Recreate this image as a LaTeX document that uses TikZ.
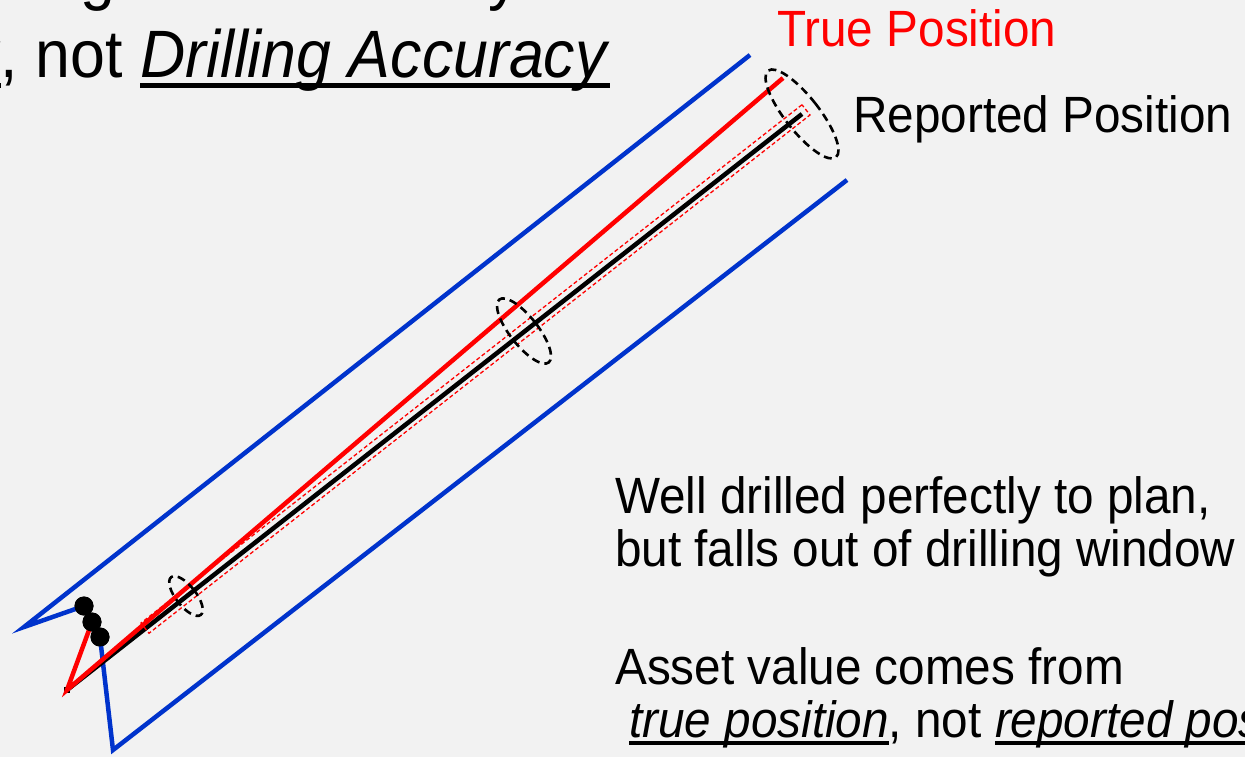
\documentclass[tikz,border=0pt]{standalone}
\usepackage{fontspec}
\setmainfont{Liberation Sans}[FakeStretch=0.935]
\usetikzlibrary{shapes.geometric,calc}
\definecolor{bg}{HTML}{F2F2F2}
\definecolor{wblue}{HTML}{0033CC}
\definecolor{wred}{HTML}{FF0000}
\newcommand{\myul}[1]{\setbox0\hbox{#1}\rlap{\rule[-0.15em]{\wd0}{0.07em}}\box0}
\tikzset{
  txt/.style={inner sep=0pt, anchor=base west, font=\fontsize{51}{55}\selectfont},
  title/.style={inner sep=0pt, anchor=base west, font=\fontsize{67}{72}\selectfont},
  blueline/.style={draw=wblue, line width=4.5pt, line join=miter},
  redline/.style={draw=wred, line width=4.5pt},
  blackline/.style={draw=black, line width=4.5pt},
  unc/.style={ellipse, draw=black, line width=2.6pt, dash pattern=on 8pt off 5pt, rotate=38.1, inner sep=0pt},
  win/.style={rectangle, draw=wred, line width=1.3pt, dash pattern=on 4pt off 2.5pt, rotate=38.1, inner sep=0pt},
  dot/.style={circle, fill=black, minimum size=19pt, inner sep=0pt}
}
\begin{document}
\begin{tikzpicture}[x=1pt,y=-1pt]
\useasboundingbox (0,0) rectangle (1245,757);
\fill[bg] (0,0) rectangle (1245,757);
% points
\coordinate (bUL) at (750,55);
\coordinate (bApex) at (24,627);
\coordinate (bLow) at (113,750);
\coordinate (bUR) at (847,180);
\coordinate (start) at (67,690);
\coordinate (redEnd) at (783,78);
\coordinate (blackEnd) at (802,114);
\node[dot] (d1) at (84,606) {};
\node[dot] (d2) at (92,622) {};
\node[dot] (d3) at (100,637) {};
% blue window
\draw[blueline] (bUL) -- (bApex) -- (d1.center);
\draw[blueline] (d3.center) -- (bLow) -- (bUR);
% black reported path
\draw[blackline] (start) -- (blackEnd);
\fill[black] ($(start)+(-3,-3)$) rectangle ($(start)+(3,3)$);
% red dashed tolerance window
\node[win, minimum width=840pt, minimum height=13pt] (tol) at (475.5,369) {};
% red true path
\draw[redline] (d2.center) -- (start) -- (redEnd);
% dots on top
\node[dot] at (d1) {};
\node[dot] at (d2) {};
\node[dot] at (d3) {};
% uncertainty ellipses
\node[unc, minimum width=20pt, minimum height=48pt] (e1) at (186,596) {};
\node[unc, minimum width=28pt, minimum height=80pt] (e2) at (524,331) {};
\node[unc, minimum width=34pt, minimum height=110pt] (e3) at (802,114) {};
% texts
\node[txt, text=wred] (tp) at (777,47) {True Position};
\node[txt] (rp) at (853,132) {Reported Position};
\node[txt] (w1) at (615,513) {Well drilled perfectly to plan,};
\node[txt] (w2) at (615,566) {but falls out of drilling window};
\node[txt] (a1) at (615,684) {Asset value comes from};
\node[txt] (a2) at (629,737) {\myul{\textit{true position}}, not \myul{\textit{reported position}}};
\node[title, anchor=base east] (top2) at (610,78) {\myul{\textit{Accuracy}}, not \myul{\textit{Drilling Accuracy}}};
\node[title] (g1) at (80,-2) {g};
\node[title] (y1) at (488,-2) {y};
\end{tikzpicture}
\end{document}
